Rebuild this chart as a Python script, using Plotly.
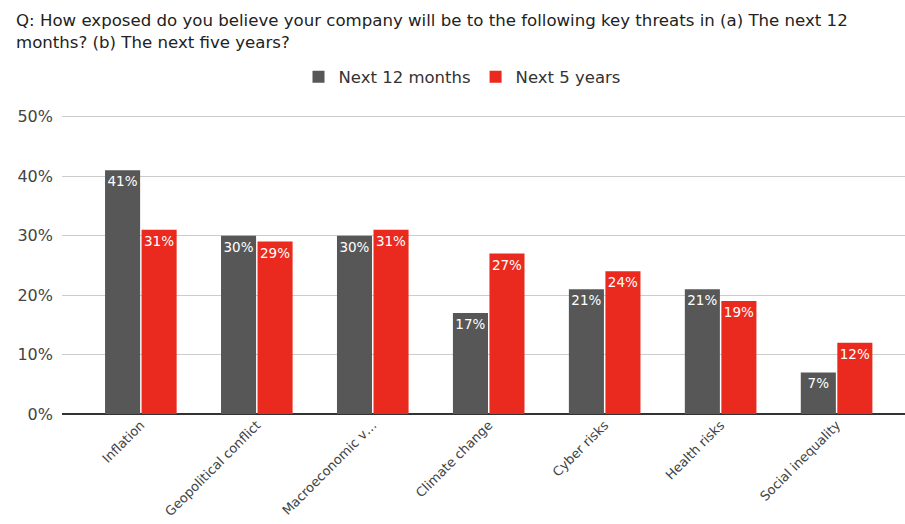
import plotly.graph_objects as go

categories = ["Inflation", "Geopolitical conflict", "Macroeconomic v\u2026", "Climate change",
              "Cyber risks", "Health risks", "Social inequality"]
next_12_months = [41, 30, 30, 17, 21, 21, 7]
next_5_years = [31, 29, 31, 27, 24, 19, 12]
y_ticks = [0, 10, 20, 30, 40, 50]
title_lines = [
    "Q: How exposed do you believe your company will be to the following key threats in (a) The next 12",
    "months? (b) The next five years?",
]

GRAY = "#575757"
RED = "#ea2a1e"
FONT = "DejaVu Sans, Arial, sans-serif"

W, H = 905, 524
M_L, M_R, M_T, M_B = 62, 0, 115, 110
PLOT_W = W - M_L - M_R
PLOT_H = H - M_T - M_B

fig = go.Figure()
for name, vals, color in [("Next 12 months", next_12_months, GRAY),
                          ("Next 5 years", next_5_years, RED)]:
    fig.add_trace(go.Bar(
        name=name, x=categories, y=vals, marker_color=color,
        text=[f"{v}%" for v in vals], textposition="inside",
        insidetextanchor="end", textangle=0, constraintext="none",
        textfont=dict(color="white", size=13.5, family=FONT),
        marker_line_width=0,
    ))

# two-line question heading, set as separate lines for tighter leading
for line, y_px in zip(title_lines, [20.5, 42.5]):
    fig.add_annotation(
        text=line, xref="paper", yref="paper",
        x=(14 - M_L) / PLOT_W, xanchor="left",
        y=1 + (M_T - y_px) / PLOT_H, yanchor="middle",
        align="left", showarrow=False,
        font=dict(size=16.6, color="#222", family=FONT),
    )

fig.update_layout(
    width=W, height=H,
    margin=dict(l=M_L, r=M_R, t=M_T, b=M_B),
    paper_bgcolor="white", plot_bgcolor="white",
    font=dict(family=FONT, color="#333"),
    barmode="group", bargap=0.37, bargroupgap=0.04,
    legend=dict(
        orientation="h", xref="container", yref="container",
        x=462 / W, xanchor="center", y=1 - 77 / H, yanchor="middle",
        font=dict(size=16.5, color="#333", family=FONT),
        traceorder="normal", itemwidth=30,
    ),
    showlegend=True,
)

fig.update_xaxes(
    range=[-0.68, 6.59], tickangle=-45, showgrid=False,
    tickfont=dict(size=13, color="#444", family=FONT),
    showline=False, ticks="",
)
fig.update_yaxes(
    range=[0, 50.3], tickvals=y_ticks, ticktext=[f"{v}%" for v in y_ticks],
    showgrid=True, gridcolor="#cccccc", gridwidth=1,
    zeroline=True, zerolinecolor="#333333", zerolinewidth=2,
    tickfont=dict(size=16, color="#444", family=FONT),
    ticklabelstandoff=8,
)

fig.write_html("out.html")
